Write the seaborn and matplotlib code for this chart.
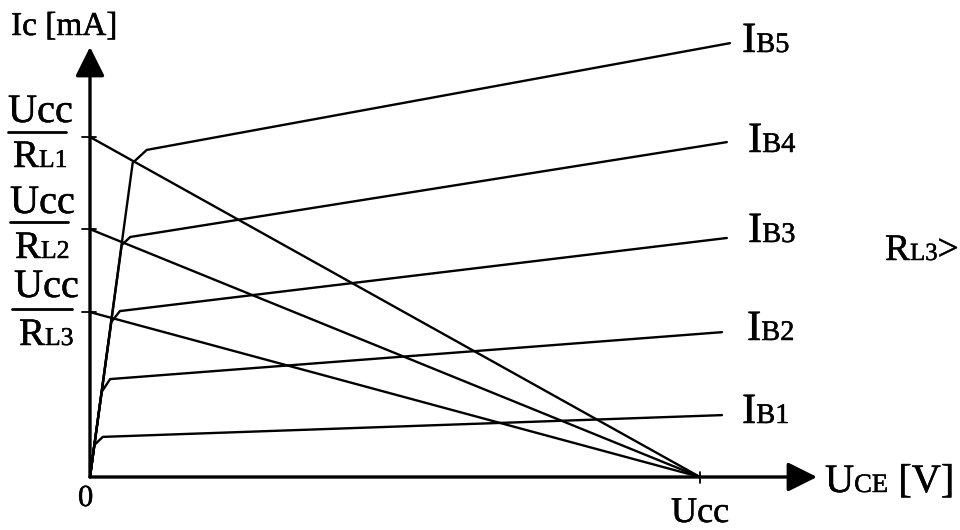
import matplotlib
matplotlib.use("Agg")
import matplotlib.pyplot as plt
import matplotlib.patheffects as pe
import seaborn as sns
import pandas as pd

# Output characteristics of a transistor (UCE in V, Ic in mA, Ucc = 10 V)
ucc = 10.0
ib_names = ["B1", "B2", "B3", "B4", "B5"]
ib_bend_x = [0.07, 0.19, 0.35, 0.52, 0.70]   # end of the steep part
ib_bend_y = [0.94, 2.50, 4.56, 6.82, 9.24]
ib_knee_x = [0.21, 0.33, 0.49, 0.66, 0.93]   # start of the flat part
ib_knee_y = [1.18, 2.88, 4.88, 7.06, 9.62]
ib_end_x = [10.36, 10.36, 10.44, 10.44, 10.49]
ib_end_y = [1.82, 4.26, 7.03, 9.85, 12.76]

# load lines: Ic(0) = Ucc / RL
rl_names = ["L1", "L2", "L3"]
rl_ic0 = [10.0, 7.29, 4.85]

# reference picture -> data units (origin at pixel 90,477)
def px(x, y):
    return (x - 90) / 61.0, (477 - y) / 34.0

# Build tables
rows = []
for i, n in enumerate(ib_names):
    pts = [(0, 0), (ib_bend_x[i], ib_bend_y[i]), (ib_knee_x[i], ib_knee_y[i]),
           (ib_end_x[i], ib_end_y[i])]
    for k, (x, y) in enumerate(pts):
        rows.append({"curve": n, "order": k, "uce": x, "ic": y})
ib_df = pd.DataFrame(rows)

rows = []
for n, ic0 in zip(rl_names, rl_ic0):
    rows.append({"curve": n, "uce": 0.0, "ic": ic0})
    rows.append({"curve": n, "uce": ucc, "ic": 0.0})
rl_df = pd.DataFrame(rows)

sns.set_theme(style="white")
plt.rcParams["font.family"] = ["Liberation Serif", "DejaVu Serif"]

fig = plt.figure(figsize=(9.6, 5.3), dpi=100)
ax = fig.add_axes([0, 0, 1, 1])
x0, y1 = px(0, 0)
x1, y0 = px(960, 530)
ax.set_xlim(x0, x1)
ax.set_ylim(y0, y1)
ax.axis("off")

sns.lineplot(data=ib_df, x="uce", y="ic", units="curve", estimator=None,
             sort=False, color="black", lw=1.7, ax=ax, legend=False)
sns.lineplot(data=rl_df, x="uce", y="ic", units="curve", estimator=None,
             sort=False, color="black", lw=1.7, ax=ax, legend=False)

# axes with arrows
arrow = dict(arrowstyle="-|>,head_length=1.0,head_width=0.5", color="black",
             lw=2.4, mutation_scale=18, shrinkA=0, shrinkB=0)
ax.annotate("", xy=px(90, 47), xytext=(0, 0), arrowprops=arrow)
ax.annotate("", xy=px(817, 477), xytext=(0, 0), arrowprops=arrow)

# small ticks
for ic0 in rl_ic0:
    ax.plot([px(82, 0)[0], px(96, 0)[0]], [ic0, ic0], color="black", lw=1.3)
ax.plot([ucc, ucc], [px(0, 472)[1], px(0, 483)[1]], color="black", lw=1.3)

fig.canvas.draw()
renderer = fig.canvas.get_renderer()
heavy = [pe.withStroke(linewidth=0.35, foreground="black")]


def label(x, y, parts, big=30):
    # parts: list of (text, is_small); all on the same baseline
    xd, yd = px(x, y)
    for text, small in parts:
        size = big * 0.66 if small else big
        t = ax.text(xd, yd, text, fontsize=size, va="baseline", ha="left",
                    color="black", path_effects=heavy)
        bb = t.get_window_extent(renderer)
        xd = ax.transData.inverted().transform((bb.x1, 0))[0]


label(11, 35, [("Ic [mA]", False)], big=24)
label(78, 506, [("0", False)], big=22)
label(671, 522, [("Ucc", False)], big=26)
label(825, 492, [("U", False), ("CE", True), (" [V]", False)], big=29)

ib_label_px = [(742, 423), (747, 340), (748, 242), (748, 152), (742, 52)]
for n, (lx, ly) in zip(ib_names, ib_label_px):
    label(lx, ly, [("I", False), (n, True)], big=31)

label(885, 260, [("R", False), ("L3", True), (">", False)], big=27)

# Ucc / RL fractions on the Ic axis
frac_px = [(8, 122, 132, 8, 66, 13, 167),
           (10, 213, 222, 10, 68, 15, 258),
           (14, 297, 309, 12, 72, 19, 345)]
for n, (ux, uy, by, bx0, bx1, rx, ry) in zip(rl_names, frac_px):
    label(ux, uy, [("Ucc", False)], big=29)
    ax.plot([px(bx0, 0)[0], px(bx1, 0)[0]], [px(0, by)[1]] * 2,
            color="black", lw=2.0)
    label(rx, ry, [("R", False), (n, True)], big=28)

fig.savefig("out.png", dpi=100)
